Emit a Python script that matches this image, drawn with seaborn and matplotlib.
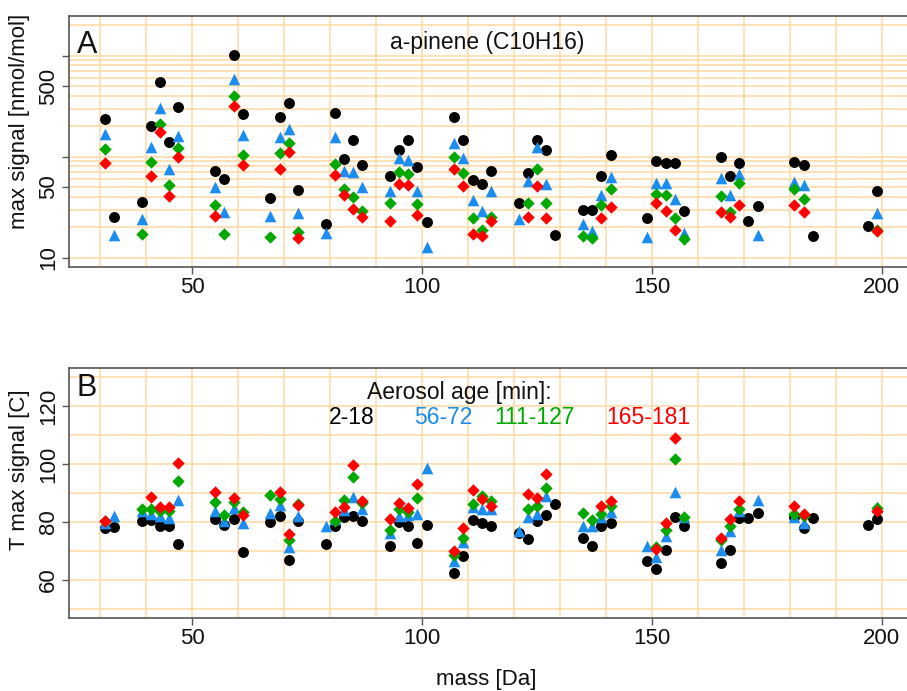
import numpy as np
import pandas as pd
import matplotlib
matplotlib.use("Agg")
import matplotlib.pyplot as plt
import seaborn as sns

# ---------------- data ----------------
series_names = ["2-18", "56-72", "111-127", "165-181"]

mass_black = [31, 33, 39, 41, 43, 45, 47, 55, 57, 59, 61, 67, 69, 71, 73, 79, 81, 83, 85, 87,
              93, 95, 97, 99, 101, 107, 109, 111, 113, 115, 121, 123, 125, 127, 129, 135, 137,
              139, 141, 149, 151, 153, 155, 157, 165, 167, 169, 171, 173, 181, 183, 185, 197, 199]
sig_black = [234, 25.2, 35.4, 203, 555, 141, 310, 73, 60, 1023, 262, 39, 249, 339, 47, 21.6, 270,
             94, 146, 82.4, 64.7, 117, 146, 79, 22.5, 250, 146, 58.6, 53.6, 71.4, 35, 68.3, 146,
             116, 16.7, 29.7, 29.7, 64.2, 105, 24.6, 91, 85.7, 85.7, 29.3, 98.9, 64.7, 85.7, 23.3,
             32.7, 87.7, 82.4, 16.5, 20.7, 45.7]
temp_black = [77.9, 78.1, 80.4, 80.6, 78.6, 78.7, 72.4, 80.9, 79, 81, 69.5, 80.1, 82, 66.8, 80.2,
              72.5, 78.7, 81.6, 82.2, 80.3, 71.7, 80.1, 78.7, 72.7, 79, 62.2, 68.3, 80.6, 79.6,
              78.5, 76.3, 74.2, 80.3, 82.5, 86.2, 74.3, 71.8, 78.7, 79.8, 66.6, 63.7, 70.4, 81.8,
              78.7, 65.7, 70.4, 81.2, 81.2, 83.1, 81.6, 77.9, 81.2, 79.1, 81]

mass_blue = [31, 33, 39, 41, 43, 45, 47, 55, 57, 59, 61, 67, 69, 71, 73, 79, 81, 83, 85, 87, 93,
             95, 97, 99, 101, 107, 109, 111, 113, 115, 121, 123, 125, 127, 135, 137, 139, 141,
             149, 151, 153, 155, 157, 165, 167, 169, 173, 181, 183, 199]
sig_blue = [167, 16.7, 24.2, 124, 305, 75.8, 160, 49.8, 28.6, 593, 164, 26, 157, 190, 27.9, 17.5,
            157, 72.5, 70.8, 50.5, 46, 98, 93, 45.4, 12.9, 137, 96.6, 37.2, 29, 45.7, 24.2, 57.8,
            125, 53.2, 21.5, 18.2, 41.8, 63.2, 16.2, 54.5, 55.2, 38.1, 17.5, 61.8, 41.8, 67.3,
            16.7, 56.5, 52.4, 27.5]
temp_blue = [79.6, 82.2, 83.8, 82.8, 82, 81.4, 87.7, 83.7, 80.4, 84.7, 79.8, 83, 85.9, 71.5, 82.2,
             78.7, 81, 84.1, 88.5, 84.5, 76.1, 82.2, 82.5, 82.8, 98.7, 66.6, 73.2, 85, 84.5, 84.3,
             77, 81.6, 82.8, 89.1, 78.7, 78.7, 81.8, 83.3, 71.8, 68, 75.3, 90.2, 81.6, 70.3, 77,
             83.7, 87.7, 81.6, 79.5, 85]

mass_green = [31, 39, 41, 43, 45, 47, 55, 57, 59, 61, 67, 69, 71, 73, 81, 83, 85, 87, 93, 95, 97,
              99, 107, 109, 111, 113, 115, 123, 125, 127, 135, 137, 139, 141, 151, 153, 155, 157,
              165, 167, 169, 181, 183, 199]
sig_green = [119, 17.0, 89, 212, 52.4, 122, 33, 17.2, 403, 104, 16.2, 109, 137, 17.9, 84, 47.5, 40,
             29.3, 34.6, 69.8, 68, 34, 99.5, 69, 24.9, 18.9, 25.2, 34.6, 75.8, 35, 16.5, 15.6,
             33.3, 47.6, 42.8, 41.8, 24.6, 15.3, 41.1, 28.6, 54.5, 47.6, 38.1, 18.6]
temp_green = [80.2, 84.5, 84.4, 83.7, 83.7, 94.3, 87, 82.5, 86.9, 83.3, 89.3, 88, 73.9, 86.2, 80.4,
              87.6, 95.4, 86.5, 77.1, 84.5, 83.4, 88.4, 68.5, 74.4, 86.2, 89, 87.1, 84.6, 85.6,
              91.7, 83.1, 80.8, 82.8, 85.4, 71.2, 77.2, 101.6, 81.8, 73.9, 78.5, 84.3, 82.8, 82,
              84.7]

mass_red = [31, 41, 43, 45, 47, 55, 59, 61, 69, 71, 73, 81, 83, 85, 87, 93, 95, 97, 99, 107, 109,
            111, 113, 115, 123, 125, 127, 139, 141, 151, 153, 155, 165, 167, 169, 181, 183, 199]
sig_red = [87, 64, 174, 41, 99.5, 26, 315, 82, 76, 111, 15.8, 66, 41.8, 30.4, 25.5, 23.2, 54, 52.7,
           26.7, 75, 51.2, 17.2, 16.5, 23.3, 25.5, 51.2, 24.6, 24.6, 32, 35, 29.3, 18.9, 28.6,
           25.5, 33, 33.5, 28.2, 18.5]
temp_red = [80.4, 88.5, 85, 85, 100.3, 90.2, 88.3, 82.5, 90.5, 75.7, 86, 83.5, 85, 99.8, 87.4, 81,
            86.7, 84.7, 93, 69.8, 77.9, 91.1, 88, 85.4, 89.7, 88.1, 96.4, 85.4, 87.4, 70.6, 79.5,
            108.9, 74.5, 81, 87.1, 85.4, 82.8, 83.9]

x_ticks = [50, 100, 150, 200]
ya_ticks = [10, 50, 100, 500, 1000]
ya_labels = ["10", "50", "", "500", ""]
yb_ticks = [60, 80, 100, 120]

# ---------------- style ----------------
sns.set_theme(style="white")
plt.rcParams["font.family"] = ["Liberation Sans", "DejaVu Sans"]

colors = ["#000000", "#1b8cf0", "#00a800", "#ff0000"]
markers = ["o", "^", "D", "D"]
sizes = [62, 70, 40, 40]
grid_c = "#ffd9a3"
spine_c = "#555555"
FS_TICK = 16
FS_LAB = 16
FS_TXT = 16.5

frames = []
for name, m, s, t in [(series_names[0], mass_black, sig_black, temp_black),
                      (series_names[1], mass_blue, sig_blue, temp_blue),
                      (series_names[2], mass_green, sig_green, temp_green),
                      (series_names[3], mass_red, sig_red, temp_red)]:
    frames.append(pd.DataFrame({"mass": m, "signal": s, "temp": t, "age": name}))
df = pd.concat(frames, ignore_index=True)

fig = plt.figure(figsize=(9.07, 6.91), dpi=100)
W, H = 907, 691
def pos(l, r, t, b):
    return [l / W, 1 - b / H, (r - l) / W, (b - t) / H]

axA = fig.add_axes(pos(69, 913, 16, 267))
axB = fig.add_axes(pos(69, 913, 368, 618))

xlim = (30 - 0.04 * 170, 200 + 0.04 * 170)

for ax in (axA, axB):
    for xv in range(30, 201, 10):
        ax.axvline(xv, color=grid_c, lw=1.1, zorder=0)

# Panel A: log scale
ya0, ya1 = np.log10(10), np.log10(2000)
pad = 0.04 * (ya1 - ya0)
axA.set_yscale("log")
axA.set_ylim(10 ** (ya0 - pad), 10 ** (ya1 + pad))
hA = [10, 20, 30, 40, 50, 60, 70, 80, 90, 100, 200, 300, 400, 500, 600, 700, 800, 900, 1000, 2000]
for yv in hA:
    axA.axhline(yv, color=grid_c, lw=1.1, zorder=0)

# Panel B
axB.set_ylim(50 - 0.04 * 80, 130 + 0.04 * 80)
for yv in range(50, 131, 10):
    axB.axhline(yv, color=grid_c, lw=1.1, zorder=0)

for i, name in enumerate(series_names):
    sub = df[df["age"] == name]
    sns.scatterplot(data=sub, x="mass", y="signal", ax=axA, color=colors[i], marker=markers[i],
                    s=sizes[i], linewidth=0, zorder=3 + i, legend=False)
    sns.scatterplot(data=sub, x="mass", y="temp", ax=axB, color=colors[i], marker=markers[i],
                    s=sizes[i], linewidth=0, zorder=3 + i, legend=False)

for ax in (axA, axB):
    ax.set_xlim(*xlim)
    ax.set_xticks(x_ticks)
    ax.set_xticklabels([str(v) for v in x_ticks])
    ax.grid(False)
    for sp in ax.spines.values():
        sp.set_color(spine_c)
        sp.set_linewidth(1.2)
    ax.tick_params(axis="both", which="major", direction="out", length=5, width=1.0,
                   color=spine_c, labelsize=FS_TICK, labelcolor="#111111", bottom=True, left=True,
                   pad=2)
    ax.tick_params(axis="both", which="minor", length=0)
    ax.set_xlabel("")

axA.yaxis.set_minor_locator(matplotlib.ticker.NullLocator())
axA.set_yticks(ya_ticks)
axA.set_yticklabels(ya_labels, rotation=90, va="center")
axB.set_yticks(yb_ticks)
axB.set_yticklabels([str(v) for v in yb_ticks], rotation=90, va="center")

axA.set_ylabel("max signal [nmol/mol]", fontsize=FS_LAB, color="#111111")
axB.set_ylabel("T max signal [C]", fontsize=FS_LAB, color="#111111")
axA.yaxis.set_label_coords(-0.046, (267 - 121) / 251)
axB.yaxis.set_label_coords(-0.046, (618 - 470) / 250)
axB.set_xlabel("mass [Da]", fontsize=FS_LAB, color="#111111")
axB.xaxis.set_label_coords((486 - 69) / 844, -(680 - 618) / 250)
axB.xaxis.label.set_va("center")

axA.text(0.009, 0.885, "A", transform=axA.transAxes, fontsize=22, va="center", ha="left",
         color="#111111")
axA.text(0.495, 0.896, "a-pinene (C10H16)", transform=axA.transAxes, fontsize=FS_TXT,
         va="center", ha="center", color="#111111")
axB.text(0.009, 0.92, "B", transform=axB.transAxes, fontsize=22, va="center", ha="left",
         color="#111111")
axB.text(108.2, 124.7, "Aerosol age [min]:", fontsize=FS_TXT, va="center", ha="center",
         color="#111111")
leg_x = [84.7, 104.7, 124.4, 149.2]
for i, name in enumerate(series_names):
    axB.text(leg_x[i], 116.1, name, fontsize=FS_TXT, va="center", ha="center", color=colors[i])

fig.savefig("out.png", dpi=100)
